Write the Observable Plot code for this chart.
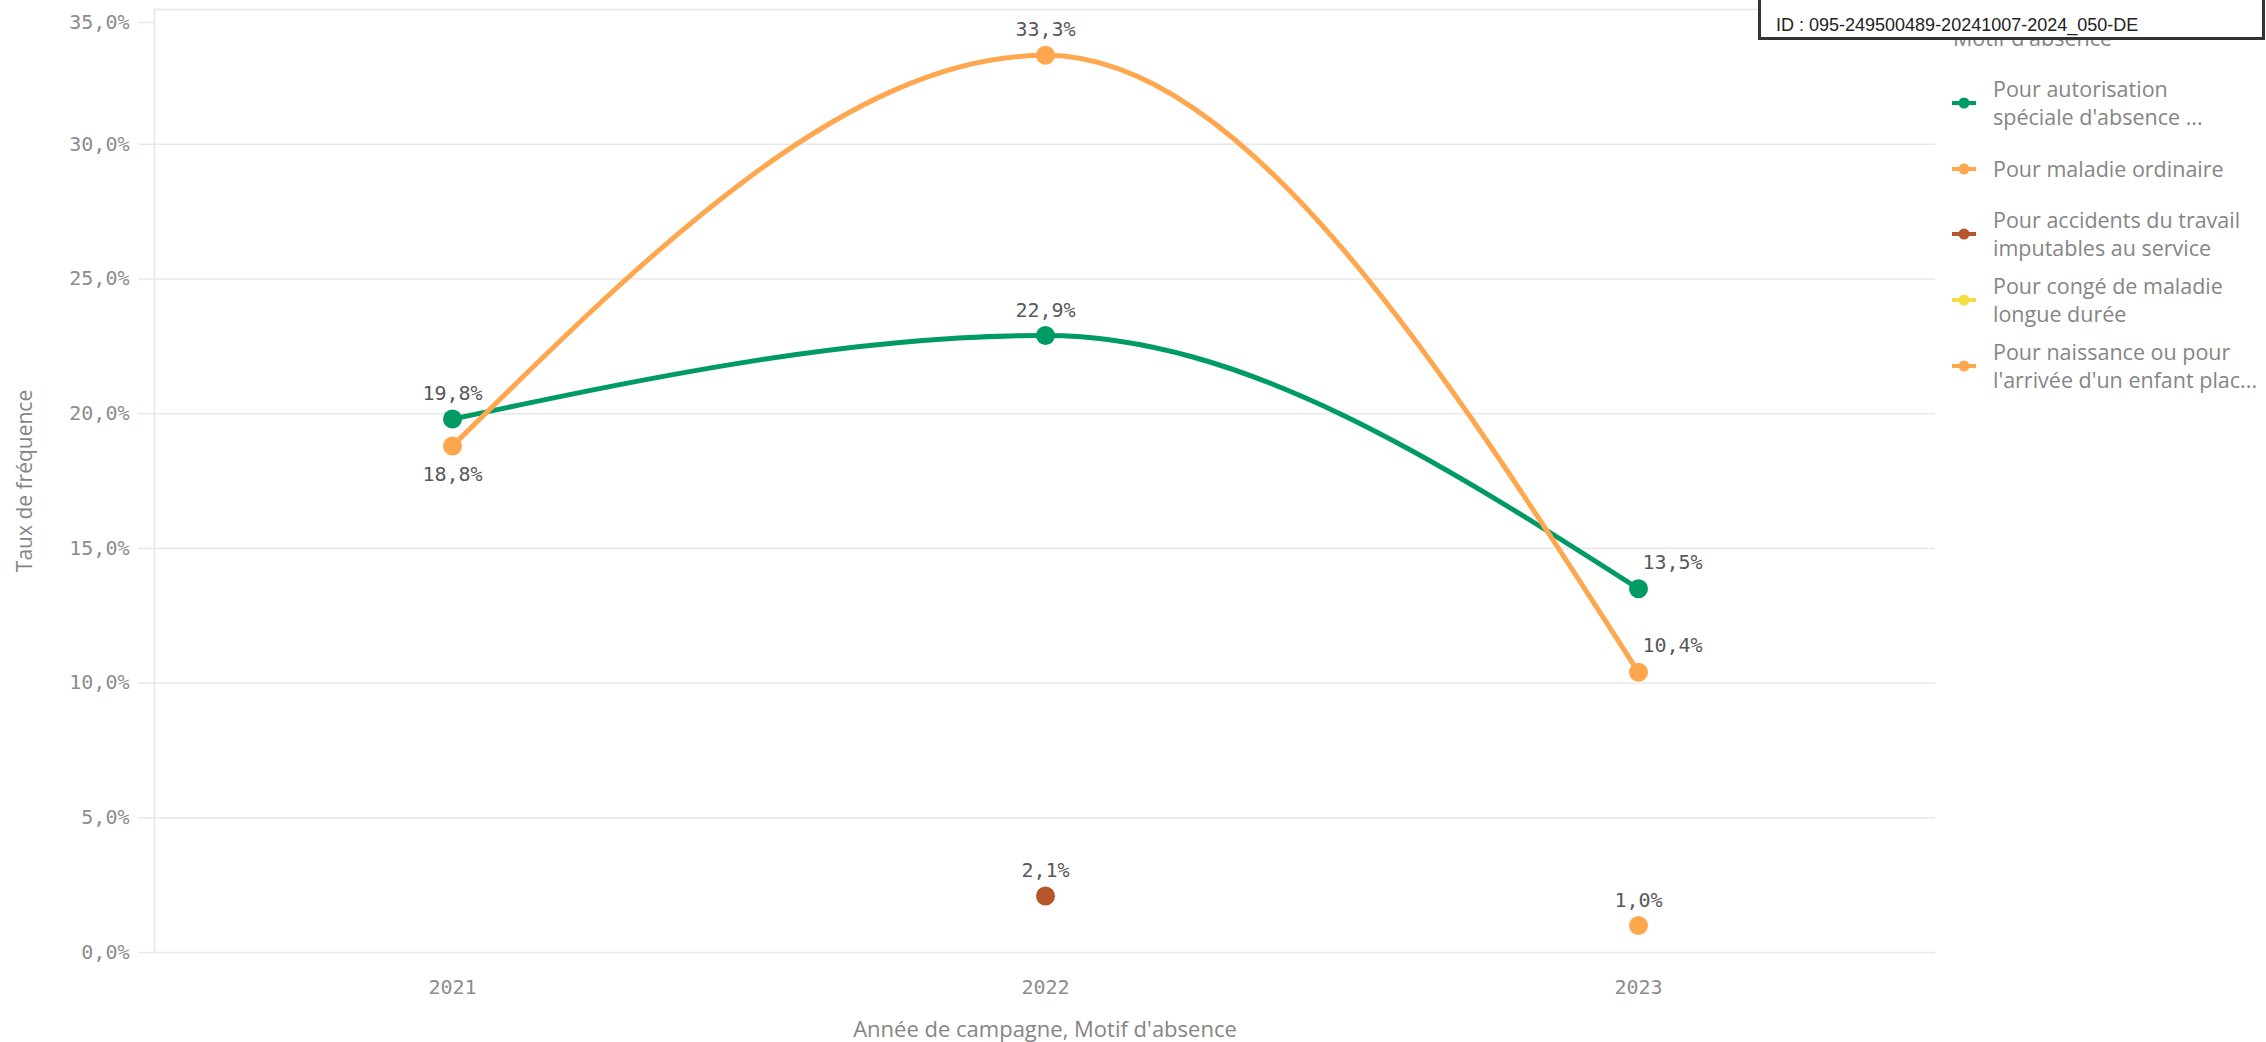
<!DOCTYPE html>
<html>
<head>
<meta charset="utf-8">
<script src="https://cdn.jsdelivr.net/npm/d3@7"></script>
<script src="https://cdn.jsdelivr.net/npm/@observablehq/plot@0.6"></script>
<style>
  html, body { margin: 0; padding: 0; background: #fff; }
  #wrap { position: relative; width: 2266px; height: 1042px; overflow: hidden; }
  #chart { position: absolute; left: 0; top: 0; }
  .legend { position: absolute; left: 1952px; top: 70px; font-family: "Open Sans", sans-serif; font-size: 21.5px; color: #858585; }
  .legend .item { display: flex; align-items: center; height: 65.75px; }
  .legend .item svg { flex: none; margin-right: 17px; }
  .legend .item span { line-height: 28px; white-space: pre; }
  .ltitle { position: absolute; left: 1953px; top: 24px; font-family: "Open Sans", sans-serif; font-size: 21.5px; line-height: 28px; color: #858585; }
  .idbox { position: absolute; left: 1758px; top: -4px; height: 44px; box-sizing: border-box; width: 507px;
           border: 3px solid #333; background: #fff; font-family: "Liberation Sans", Arial, sans-serif; font-size: 18px; color: #222;
           padding-left: 15px; line-height: 20px; padding-top: 16px; }
</style>
</head>
<body>
<div id="wrap">
  <div id="chart"></div>
  <div class="ltitle">Motif d'absence</div>
  <div class="legend" id="legend"></div>
  <div class="idbox">ID : 095-249500489-20241007-2024_050-DE</div>
</div>
<script>
// ---- data ----
const years = ["2021", "2022", "2023"];
const seriesNames = [
  "Pour autorisation spéciale d'absence ...",
  "Pour maladie ordinaire",
  "Pour accidents du travail imputables au service",
  "Pour congé de maladie longue durée",
  "Pour naissance ou pour l'arrivée d'un enfant plac..."
];
const legendLines = [
  "Pour autorisation\nspéciale d'absence ...",
  "Pour maladie ordinaire",
  "Pour accidents du travail\nimputables au service",
  "Pour congé de maladie\nlongue durée",
  "Pour naissance ou pour\nl'arrivée d'un enfant plac..."
];
const autorisationSpeciale = [19.8, 22.9, 13.5];
const maladieOrdinaire = [18.8, 33.3, 10.4];
const accidentsTravail = [null, 2.1, null];
const congeLongueDuree = [null, null, null];
const naissanceArrivee = [null, null, 1.0];
const seriesColors = ["#009a63", "#ffa74f", "#b5552b", "#f3df45", "#ffa74f"];
const yTicks = [0, 5, 10, 15, 20, 25, 30, 35];
const yTitle = "Taux de fréquence";
const xTitle = "Année de campagne, Motif d'absence";

// ---- build table ----
const seriesValues = [autorisationSpeciale, maladieOrdinaire, accidentsTravail, congeLongueDuree, naissanceArrivee];
const rows = [];
seriesValues.forEach((vals, si) => {
  vals.forEach((v, yi) => {
    if (v != null) rows.push({ year: years[yi], value: v, series: seriesNames[si], si });
  });
});
const lineRows = rows.filter(d => seriesValues[d.si].filter(v => v != null).length > 1);

const fmt = v => v.toFixed(1).replace(".", ",") + "%";

// label placement (style, kept in code)
function placement(d) {
  const others = rows.filter(o => o.year === d.year && o !== d);
  if (others.some(o => o.value > d.value && o.value - d.value < 3)) return "below";
  if (d.year === years[years.length - 1] && lineRows.includes(d)) return "right";
  return "above";
}

const labelColor = "#595959";
const tickColor = "#8c8c8c";
const gridColor = "#e8e8e8";
const mono = "'DejaVu Sans Mono', monospace";
const sans = "'Open Sans', sans-serif";
const topTick = yTicks[yTicks.length - 1];

const chart = Plot.plot({
  width: 2266,
  height: 1042,
  marginTop: 9,
  marginBottom: 90,
  marginLeft: 154,
  marginRight: 331,
  style: { background: "#fff", fontFamily: mono },
  x: { type: "point", domain: years, padding: 0.5 },
  y: { domain: [0, 35] },
  color: { domain: seriesNames, range: seriesColors },
  marks: [
    Plot.gridY(yTicks, { stroke: gridColor, strokeOpacity: 1, strokeWidth: 1.5 }),
    Plot.frame({ anchor: "left", stroke: gridColor, strokeWidth: 1.5 }),
    Plot.axisY({
      ticks: yTicks.filter(t => t !== topTick), tickSize: 16, tickPadding: 9, stroke: gridColor, strokeOpacity: 1, strokeWidth: 1.5,
      tickFormat: fmt, fontSize: 20, fontFamily: mono, fill: tickColor, label: null
    }),
    Plot.axisY({
      ticks: [topTick], tickSize: 16, tickPadding: 9, stroke: gridColor, strokeOpacity: 1, strokeWidth: 1.5,
      tickFormat: fmt, fontSize: 20, fontFamily: mono, fill: tickColor, label: null, dy: 13
    }),
    Plot.axisX({
      tickSize: 0, tickPadding: 27, fontSize: 20, fontFamily: mono, fill: tickColor, label: null
    }),
    Plot.text([yTitle], {
      frameAnchor: "left", dx: -129, rotate: -90, text: d => d, fontSize: 21, fontFamily: sans,
      fill: "#858585", textAnchor: "middle", lineAnchor: "middle"
    }),
    Plot.text([xTitle], {
      frameAnchor: "bottom", dy: 77, text: d => d, fontSize: 22, fontFamily: sans,
      fill: "#858585", textAnchor: "middle", lineAnchor: "middle"
    }),
    Plot.line(lineRows, {
      x: "year", y: "value", z: "series", stroke: "series", strokeWidth: 5, curve: "monotone-x"
    }),
    Plot.dot(rows, { x: "year", y: "value", fill: "series", r: 9.5 }),
    Plot.text(rows.filter(d => placement(d) === "above"), {
      x: "year", y: "value", text: d => fmt(d.value), dy: -19, lineAnchor: "bottom",
      fontSize: 20, fontFamily: mono, fill: labelColor
    }),
    Plot.text(rows.filter(d => placement(d) === "below"), {
      x: "year", y: "value", text: d => fmt(d.value), dy: 35, lineAnchor: "bottom",
      fontSize: 20, fontFamily: mono, fill: labelColor
    }),
    Plot.text(rows.filter(d => placement(d) === "right"), {
      x: "year", y: "value", text: d => fmt(d.value), dx: 34, dy: -20, lineAnchor: "bottom",
      fontSize: 20, fontFamily: mono, fill: labelColor
    })
  ]
});
document.getElementById("chart").appendChild(chart);

// legend
const legend = document.getElementById("legend");
seriesNames.forEach((name, i) => {
  const item = document.createElement("div");
  item.className = "item";
  const c = seriesColors[i];
  item.innerHTML = `<svg width="24" height="14"><line x1="0" x2="24" y1="7" y2="7" stroke="${c}" stroke-width="4"/><circle cx="12" cy="7" r="5.5" fill="${c}"/></svg>`;
  const span = document.createElement("span");
  span.textContent = legendLines[i];
  item.appendChild(span);
  legend.appendChild(item);
});
</script>
</body>
</html>
